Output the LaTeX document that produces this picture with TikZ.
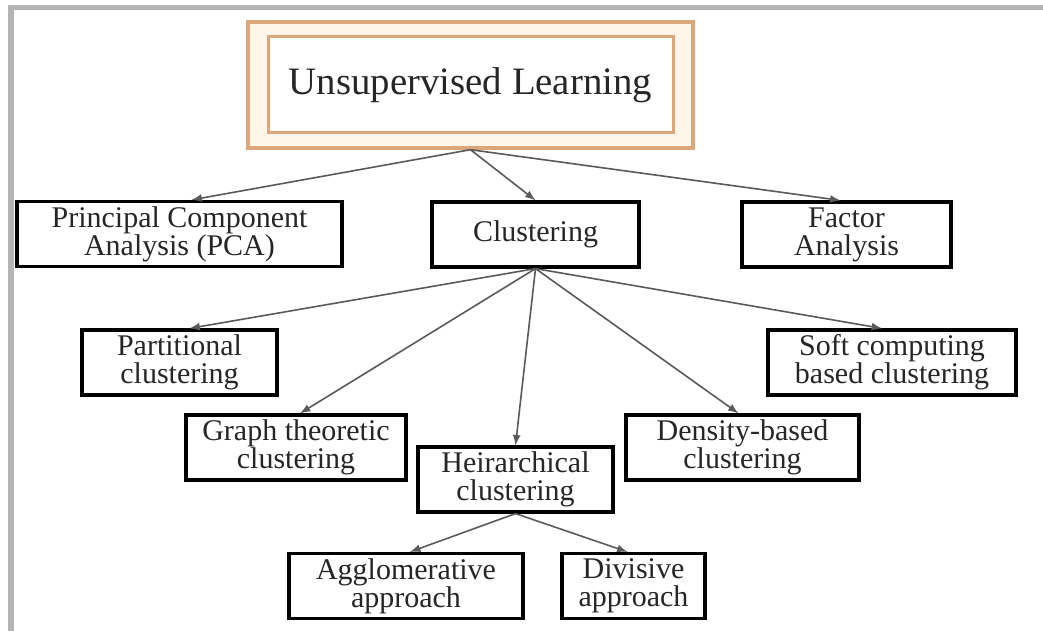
\documentclass[tikz,border=0pt]{standalone}
\usepackage{xcolor}
\usepackage{tikz}
\usepackage{fontspec}
\setmainfont{Liberation Serif}

\definecolor{framegray}{HTML}{B4B4B4}
\definecolor{arrgray}{HTML}{5A5A5A}
\definecolor{tanline}{HTML}{DDA77C}
\definecolor{creamfill}{HTML}{FFF6EA}
\definecolor{textdark}{HTML}{262626}
\newcommand{\boxfont}{\fontsize{15}{14}\selectfont}
\newcommand{\titlefont}{\fontsize{19.4}{22}\selectfont}

\begin{document}
\begin{tikzpicture}[x=0.5pt,y=0.5pt,every node/.style={shape=rectangle,align=center,inner sep=0pt,text=textdark,font=\boxfont},
    box/.style={draw=black,line width=1.6pt,minimum height=32.5pt},
    arr/.style={->,>=latex,draw=arrgray,line width=0.8pt}]
    \useasboundingbox[fill=white] (0,0) rectangle (1043,631);
    % grey frame
    \fill[framegray] (8,621) rectangle (1043,626);
    \fill[framegray] (8,0) rectangle (14,626);
    % title
    \node[draw=tanline,line width=1.7pt,fill=creamfill,minimum width=222.5pt,minimum height=63pt] (ulout) at (470.5,546) {};
    \node[draw=tanline,line width=1.5pt,fill=white,minimum width=202.5pt,minimum height=48pt,font=\titlefont] (ul) at (470.5,546) {Unsupervised Learning};
    % first level
    \node[box,minimum width=162.5pt] (pca) at (179.5,397) {Principal Component\\Analysis (PCA)};
    \node[box,minimum width=103.5pt] (clust) at (535.5,396.5) {Clustering};
    \node[box,minimum width=104.5pt] (factor) at (846.5,396.5) {Factor\\Analysis};
    % clustering methods
    \node[box,minimum width=97.5pt] (partit) at (179.5,268.5) {Partitional\\clustering};
    \node[box,minimum width=124pt] (soft) at (892,268.5) {Soft computing\\based clustering};
    \node[box,minimum width=110pt] (graph) at (296,183.5) {Graph theoretic\\clustering};
    \node[box,minimum width=116.5pt] (density) at (742.5,183.5) {Density-based\\clustering};
    \node[box,minimum width=97.5pt] (heir) at (515.5,151.5) {Heirarchical\\clustering};
    \node[box,minimum width=117pt] (agglo) at (406,45) {Agglomerative\\approach};
    \node[box,minimum width=71.5pt] (divis) at (633.5,45) {Divisive\\approach};

    \draw[arr] (ulout.south) -- ([xshift=6pt]pca.north);
    \draw[arr] (ulout.south) -- (clust.north);
    \draw[arr] (ulout.south) -- ([xshift=-3pt]factor.north);
    \draw[arr] (clust.south) -- ([xshift=5pt]partit.north);
    \draw[arr] (clust.south) -- ([xshift=2pt]graph.north);
    \draw[arr] (clust.south) -- (heir.north);
    \draw[arr] (clust.south) -- ([xshift=-2pt]density.north);
    \draw[arr] (clust.south) -- ([xshift=-5pt]soft.north);
    \draw[arr] (heir.south) -- ([xshift=2pt]agglo.north);
    \draw[arr] (heir.south) -- ([xshift=-3pt]divis.north);
\end{tikzpicture}
\end{document}
